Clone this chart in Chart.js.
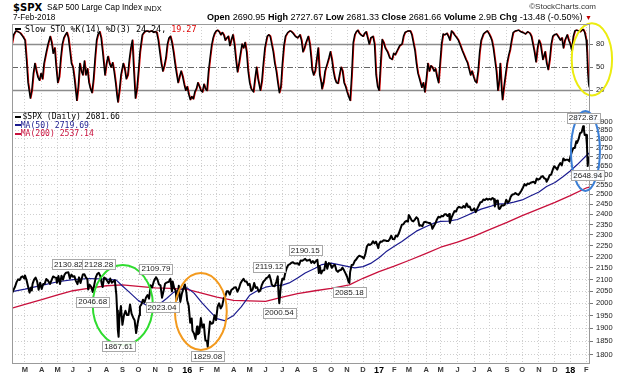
<!DOCTYPE html>
<html><head><meta charset="utf-8">
<script src="https://cdn.jsdelivr.net/npm/chart.js@4.4.1/dist/chart.umd.min.js"></script>
<style>
html,body{margin:0;padding:0;background:#fff;}
#wrap{position:relative;width:630px;height:376px;overflow:hidden;font-family:'Liberation Sans',Arial,sans-serif;color:#000;}
.t{position:absolute;white-space:nowrap;line-height:1;}
.mono{font-family:'DejaVu Sans Mono',monospace;}
.dash{position:absolute;height:2px;width:6px;}
canvas{position:absolute;left:0;}
</style></head><body>
<div id="wrap">
<canvas id="cStoch" width="630" height="96" style="top:16px;width:630px;height:96px"></canvas>
<canvas id="cPrice" width="630" height="276" style="top:100px;width:630px;height:276px"></canvas>

<div class="t" style="left:13px;top:2.5px;font-family:'DejaVu Sans';font-weight:bold;font-size:10px">$SPX</div>
<div class="t" style="left:47px;top:4px;font-size:8.2px">S&amp;P 500 Large Cap Index</div>
<div class="t" style="left:144px;top:4.5px;font-size:7.4px">INDX</div>
<div class="t" style="left:13px;top:14px;font-size:8.2px">7-Feb-2018</div>
<div class="t" style="right:38px;top:13.4px;font-size:9.05px"><b>Open</b> 2690.95 <b>High</b> 2727.67 <b>Low</b> 2681.33 <b>Close</b> 2681.66 <b>Volume</b> 2.9B <b>Chg</b> -13.48 (-0.50%) <span style="color:#c00000;font-size:7px">&#9660;</span></div>
<div class="t" style="right:34px;top:2.7px;font-size:8px;color:#333">&#169;StockCharts.com</div>

<div class="dash" style="left:15px;top:28px;background:#000"></div>
<div class="t mono" style="left:25px;top:24.5px;font-size:8.4px">Slow STO %K(14) %D(3) 24.24, <span style="color:#e00000">19.27</span></div>

<div class="dash" style="left:15px;top:116px;background:#000"></div>
<div class="t mono" style="left:22.5px;top:112.2px;font-size:8.1px">$SPX (Daily) 2681.66</div>
<div class="dash" style="left:15px;top:124.3px;background:#1b1b8f"></div>
<div class="t mono" style="left:20.7px;top:120.5px;font-size:8.1px;color:#1b1b8f">MA(50) 2719.69</div>
<div class="dash" style="left:15px;top:132.6px;background:#c8103c"></div>
<div class="t mono" style="left:20.7px;top:128.8px;font-size:8.1px;color:#c8103c">MA(200) 2537.14</div>
</div>
<script>
// ---------------- DATA ----------------
const spxClose = [
['2015-02-04',2041.51],['2015-02-06',2055.47],['2015-02-10',2068.59],['2015-02-12',2088.48],['2015-02-17',2100.34],['2015-02-19',2097.45],['2015-02-23',2109.66],['2015-02-25',2113.86],['2015-02-27',2104.50],
['2015-03-02',2117.39],['2015-03-04',2098.53],['2015-03-06',2071.26],['2015-03-10',2044.16],['2015-03-12',2065.95],['2015-03-13',2053.40],['2015-03-16',2081.19],['2015-03-18',2099.50],['2015-03-20',2108.10],['2015-03-24',2091.50],['2015-03-26',2056.15],['2015-03-30',2086.24],
['2015-04-01',2059.69],['2015-04-06',2080.62],['2015-04-08',2081.90],['2015-04-10',2102.06],['2015-04-14',2095.84],['2015-04-17',2081.18],['2015-04-21',2097.29],['2015-04-23',2112.93],['2015-04-27',2108.92],['2015-04-29',2106.85],['2015-04-30',2085.51],
['2015-05-04',2114.49],['2015-05-06',2080.15],['2015-05-08',2116.10],['2015-05-12',2099.12],['2015-05-14',2121.10],['2015-05-18',2129.20],['2015-05-21',2130.82],['2015-05-26',2104.20],['2015-05-28',2120.79],
['2015-06-01',2111.73],['2015-06-03',2114.07],['2015-06-05',2092.83],['2015-06-09',2080.15],['2015-06-11',2108.86],['2015-06-15',2084.43],['2015-06-18',2121.24],['2015-06-22',2122.85],['2015-06-24',2108.58],['2015-06-26',2101.49],['2015-06-29',2057.64],
['2015-07-01',2077.42],['2015-07-06',2068.76],['2015-07-08',2046.68],['2015-07-10',2076.62],['2015-07-14',2108.95],['2015-07-16',2124.29],['2015-07-20',2128.28],['2015-07-22',2114.15],['2015-07-24',2079.65],['2015-07-27',2067.64],['2015-07-29',2108.57],['2015-07-31',2103.84],
['2015-08-04',2093.32],['2015-08-06',2083.56],['2015-08-10',2104.18],['2015-08-12',2086.05],['2015-08-14',2091.54],['2015-08-18',2096.92],['2015-08-20',2035.73],['2015-08-21',1970.89],['2015-08-24',1893.21],['2015-08-25',1867.61],['2015-08-26',1940.51],['2015-08-28',1988.87],
['2015-09-01',1913.85],['2015-09-03',1951.13],['2015-09-08',1969.41],['2015-09-10',1952.29],['2015-09-14',1953.03],['2015-09-16',1995.31],['2015-09-18',1958.08],['2015-09-22',1942.74],['2015-09-24',1932.24],['2015-09-28',1881.77],['2015-09-30',1920.03],
['2015-10-02',1951.36],['2015-10-05',1987.05],['2015-10-07',1995.83],['2015-10-09',2014.89],['2015-10-13',2003.69],['2015-10-15',2023.86],['2015-10-19',2033.66],['2015-10-21',2018.94],['2015-10-23',2075.15],['2015-10-27',2065.89],['2015-10-29',2089.41],
['2015-11-02',2104.05],['2015-11-03',2109.79],['2015-11-05',2099.93],['2015-11-09',2078.58],['2015-11-11',2075.00],['2015-11-13',2023.04],['2015-11-17',2050.44],['2015-11-19',2081.24],['2015-11-23',2086.59],['2015-11-27',2090.11],
['2015-12-01',2102.63],['2015-12-03',2049.62],['2015-12-04',2091.69],['2015-12-08',2063.59],['2015-12-10',2052.23],['2015-12-11',2012.37],['2015-12-14',2021.94],['2015-12-16',2073.07],['2015-12-18',2005.55],['2015-12-22',2038.97],['2015-12-24',2060.99],['2015-12-29',2078.36],['2015-12-31',2043.94],
['2016-01-04',2012.66],['2016-01-06',1990.26],['2016-01-08',1922.03],['2016-01-12',1938.68],['2016-01-13',1890.28],['2016-01-15',1880.33],['2016-01-20',1859.33],['2016-01-22',1906.90],['2016-01-25',1877.08],['2016-01-27',1882.95],['2016-01-29',1940.24],
['2016-02-02',1903.03],['2016-02-04',1915.45],['2016-02-05',1880.05],['2016-02-08',1853.44],['2016-02-10',1851.86],['2016-02-11',1829.08],['2016-02-12',1864.78],['2016-02-17',1926.82],['2016-02-19',1917.78],['2016-02-23',1921.27],['2016-02-25',1951.70],['2016-02-29',1932.23],
['2016-03-02',1986.45],['2016-03-04',1999.99],['2016-03-08',1979.26],['2016-03-10',1989.57],['2016-03-14',2019.64],['2016-03-16',2027.22],['2016-03-18',2049.58],['2016-03-22',2049.80],['2016-03-24',2035.94],['2016-03-29',2055.01],['2016-03-31',2059.74],
['2016-04-04',2066.13],['2016-04-06',2066.66],['2016-04-08',2047.60],['2016-04-12',2061.72],['2016-04-14',2082.78],['2016-04-18',2094.34],['2016-04-20',2102.40],['2016-04-22',2091.58],['2016-04-26',2091.70],['2016-04-28',2075.81],
['2016-05-02',2081.43],['2016-05-04',2051.12],['2016-05-06',2057.14],['2016-05-10',2084.39],['2016-05-12',2064.11],['2016-05-16',2066.66],['2016-05-18',2047.63],['2016-05-20',2052.32],['2016-05-24',2076.06],['2016-05-26',2090.10],['2016-05-31',2096.95],
['2016-06-02',2105.26],['2016-06-06',2109.41],['2016-06-08',2119.12],['2016-06-10',2096.07],['2016-06-13',2079.06],['2016-06-15',2071.50],['2016-06-17',2071.22],['2016-06-21',2088.90],['2016-06-23',2113.32],['2016-06-24',2037.41],['2016-06-27',2000.54],['2016-06-29',2070.77],
['2016-07-01',2102.95],['2016-07-06',2099.73],['2016-07-08',2129.90],['2016-07-12',2152.14],['2016-07-14',2163.75],['2016-07-18',2166.89],['2016-07-20',2173.02],['2016-07-22',2175.03],['2016-07-26',2169.18],['2016-07-28',2170.06],
['2016-08-01',2170.84],['2016-08-03',2163.79],['2016-08-05',2182.87],['2016-08-09',2181.74],['2016-08-11',2185.79],['2016-08-15',2190.15],['2016-08-17',2182.22],['2016-08-19',2183.87],['2016-08-23',2186.90],['2016-08-25',2172.47],['2016-08-29',2180.38],['2016-08-31',2170.95],
['2016-09-02',2179.98],['2016-09-07',2186.16],['2016-09-09',2127.81],['2016-09-12',2159.04],['2016-09-14',2125.77],['2016-09-16',2139.16],['2016-09-20',2139.76],['2016-09-22',2177.18],['2016-09-26',2146.10],['2016-09-28',2171.37],['2016-09-30',2168.27],
['2016-10-04',2150.49],['2016-10-06',2160.77],['2016-10-10',2163.66],['2016-10-12',2139.18],['2016-10-14',2132.98],['2016-10-18',2139.60],['2016-10-20',2141.34],['2016-10-24',2151.33],['2016-10-26',2139.43],['2016-10-28',2126.41],
['2016-11-01',2111.72],['2016-11-03',2088.66],['2016-11-04',2085.18],['2016-11-07',2131.52],['2016-11-09',2163.26],['2016-11-11',2164.45],['2016-11-15',2180.39],['2016-11-17',2187.12],['2016-11-21',2198.18],['2016-11-23',2204.72],['2016-11-28',2201.72],['2016-11-30',2198.81],
['2016-12-02',2191.95],['2016-12-06',2212.23],['2016-12-08',2246.19],['2016-12-12',2256.96],['2016-12-14',2253.28],['2016-12-16',2258.07],['2016-12-20',2270.76],['2016-12-22',2260.96],['2016-12-27',2268.88],['2016-12-29',2249.26],['2016-12-30',2238.83],
['2017-01-03',2257.83],['2017-01-05',2269.00],['2017-01-09',2268.90],['2017-01-11',2275.32],['2017-01-13',2274.64],['2017-01-18',2271.89],['2017-01-20',2271.31],['2017-01-24',2280.07],['2017-01-26',2296.68],['2017-01-30',2280.90],
['2017-02-01',2279.55],['2017-02-03',2297.42],['2017-02-07',2293.08],['2017-02-09',2307.87],['2017-02-13',2328.25],['2017-02-15',2349.25],['2017-02-17',2351.16],['2017-02-22',2362.82],['2017-02-24',2367.34],['2017-02-28',2363.64],
['2017-03-01',2395.96],['2017-03-03',2383.12],['2017-03-07',2368.39],['2017-03-09',2364.87],['2017-03-13',2373.47],['2017-03-15',2385.26],['2017-03-17',2378.25],['2017-03-21',2344.02],['2017-03-23',2345.96],['2017-03-27',2341.59],['2017-03-29',2361.13],['2017-03-31',2362.72],
['2017-04-04',2360.16],['2017-04-06',2357.49],['2017-04-10',2357.16],['2017-04-12',2344.93],['2017-04-13',2328.95],['2017-04-18',2342.19],['2017-04-20',2355.84],['2017-04-24',2374.15],['2017-04-26',2387.45],['2017-04-28',2384.20],
['2017-05-02',2391.17],['2017-05-04',2389.52],['2017-05-08',2399.38],['2017-05-10',2399.63],['2017-05-12',2390.90],['2017-05-16',2400.67],['2017-05-17',2357.03],['2017-05-19',2381.73],['2017-05-23',2398.42],['2017-05-25',2415.07],['2017-05-30',2412.91],
['2017-06-01',2430.06],['2017-06-05',2436.10],['2017-06-07',2433.14],['2017-06-09',2431.77],['2017-06-13',2440.35],['2017-06-15',2432.46],['2017-06-19',2453.46],['2017-06-21',2435.61],['2017-06-23',2438.30],['2017-06-27',2419.38],['2017-06-29',2419.70],
['2017-07-03',2429.01],['2017-07-06',2409.75],['2017-07-10',2427.43],['2017-07-12',2443.25],['2017-07-14',2459.27],['2017-07-18',2460.61],['2017-07-20',2473.45],['2017-07-24',2469.91],['2017-07-26',2477.57],['2017-07-28',2472.10],
['2017-08-01',2476.35],['2017-08-03',2472.16],['2017-08-07',2480.91],['2017-08-09',2474.02],['2017-08-10',2438.21],['2017-08-14',2465.84],['2017-08-16',2468.11],['2017-08-17',2430.01],['2017-08-18',2425.55],['2017-08-21',2428.37],['2017-08-23',2444.04],['2017-08-25',2443.05],['2017-08-29',2446.30],['2017-08-31',2471.65],
['2017-09-05',2457.85],['2017-09-07',2465.10],['2017-09-11',2488.11],['2017-09-13',2498.37],['2017-09-15',2500.23],['2017-09-19',2506.65],['2017-09-21',2500.60],['2017-09-25',2496.66],['2017-09-27',2507.04],['2017-09-29',2519.36],
['2017-10-03',2534.58],['2017-10-05',2552.07],['2017-10-09',2544.73],['2017-10-11',2555.24],['2017-10-13',2553.17],['2017-10-17',2559.36],['2017-10-19',2562.10],['2017-10-23',2564.98],['2017-10-25',2557.15],['2017-10-27',2581.07],['2017-10-31',2575.26],
['2017-11-02',2579.85],['2017-11-06',2591.13],['2017-11-08',2594.38],['2017-11-10',2582.30],['2017-11-14',2578.87],['2017-11-15',2564.62],['2017-11-17',2578.85],['2017-11-21',2599.03],['2017-11-24',2602.42],['2017-11-28',2627.04],['2017-11-30',2647.58],
['2017-12-04',2639.44],['2017-12-06',2629.27],['2017-12-08',2651.50],['2017-12-12',2664.11],['2017-12-14',2652.01],['2017-12-18',2690.16],['2017-12-20',2679.25],['2017-12-22',2683.34],['2017-12-27',2682.62],['2017-12-29',2673.61],
['2018-01-02',2695.81],['2018-01-04',2723.99],['2018-01-08',2747.71],['2018-01-10',2748.23],['2018-01-12',2786.24],['2018-01-16',2776.42],['2018-01-18',2798.03],['2018-01-22',2832.97],['2018-01-24',2837.54],['2018-01-26',2872.87],['2018-01-29',2853.53],['2018-01-30',2822.43],['2018-01-31',2823.81],
['2018-02-01',2821.98],['2018-02-02',2762.13],['2018-02-05',2648.94],['2018-02-06',2695.14],['2018-02-07',2681.66]
];
const ma50 = [
['2015-02-04',2048],['2015-03-02',2059],['2015-04-01',2075],['2015-05-01',2090],['2015-06-01',2099],['2015-07-01',2104],['2015-08-03',2101],['2015-08-20',2097],['2015-09-01',2072],['2015-09-15',2046],['2015-10-01',2011],['2015-10-15',1993],['2015-10-28',1982],['2015-11-09',1995],['2015-11-23',2020],['2015-12-07',2045],['2015-12-21',2058],
['2016-01-04',2064],['2016-01-15',2042],['2016-02-01',2004],['2016-02-16',1970],['2016-03-01',1938],['2016-03-15',1930],['2016-04-01',1951],['2016-04-15',1985],['2016-05-02',2033],['2016-05-16',2052],['2016-06-01',2067],['2016-06-15',2073],['2016-07-01',2076],['2016-07-15',2085],['2016-08-01',2106],['2016-08-15',2128],['2016-09-01',2149],['2016-09-15',2165],['2016-10-03',2171],['2016-10-17',2165],['2016-11-01',2157],['2016-11-15',2150],['2016-12-01',2156],['2016-12-15',2170],
['2017-01-03',2195],['2017-01-17',2222],['2017-02-01',2247],['2017-02-15',2270],['2017-03-01',2293],['2017-03-15',2318],['2017-04-03',2340],['2017-04-17',2355],['2017-05-01',2365],['2017-05-15',2366],['2017-06-01',2374],['2017-06-15',2390],['2017-07-03',2410],['2017-07-17',2425],['2017-08-01',2437],['2017-08-15',2450],['2017-09-01',2452],['2017-09-15',2460],['2017-10-02',2471],['2017-10-16',2490],['2017-11-01',2511],['2017-11-15',2540],['2017-12-01',2561],['2017-12-15',2590],
['2018-01-02',2622],['2018-01-16',2655],['2018-02-01',2705],['2018-02-07',2719.69]
];
const ma200 = [
['2015-02-04',1980],['2015-03-02',1996],['2015-04-01',2015],['2015-05-01',2035],['2015-06-01',2052],['2015-07-01',2063],['2015-08-03',2073],['2015-09-01',2077],['2015-10-01',2070],['2015-11-02',2064],['2015-12-01',2062],
['2016-01-04',2058],['2016-02-01',2042],['2016-03-01',2025],['2016-04-01',2012],['2016-05-02',2010],['2016-06-01',2008],['2016-07-01',2025],['2016-08-01',2040],['2016-09-01',2052],['2016-10-03',2062],['2016-11-04',2077],['2016-12-01',2105],
['2017-01-03',2134],['2017-02-01',2158],['2017-03-01',2183],['2017-04-03',2215],['2017-05-01',2243],['2017-06-01',2267],['2017-07-03',2295],['2017-08-01',2325],['2017-09-01',2360],['2017-10-02',2393],['2017-11-01',2426],['2017-12-01',2459],
['2018-01-02',2493],['2018-02-01',2532],['2018-02-07',2537.14]
];
// Slow stochastic %K: [trading-day number from 4-Feb-2015, value]
const stochK = [
[0,81],[2,92],[5,97],[8,96],[11,94],[14,90],[17,85],[19,60],[21,30],[24,10],[26,20],[28,42],[30,55],[32,45],[34,37],[36,33],[38,42],[40,35],[42,55],[45,70],[47,79],[50,90],[52,82],[54,68],[56,75],[58,50],[60,30],[62,38],[64,62],[66,80],[68,88],[70,92],[72,95],[74,88],[76,72],[78,55],[80,50],[82,35],[85,7],[87,25],[89,55],[91,45],[93,40],[95,58],[97,40],[99,48],
[101,30],[103,22],[105,17],[107,35],[109,62],[111,85],[113,93],[115,96],[117,88],[119,70],[122,40],[124,55],[126,64],[128,55],[130,50],[132,56],[134,45],[136,30],[138,12],[139,5],[141,20],[143,40],[146,55],[148,48],[150,35],[152,40],[154,60],[156,75],[158,85],[160,45],[162,10],[164,22],[166,45],[168,70],[171,92],[174,96],[177,97],[180,96],[183,97],[186,95],[188,96],[190,95],[192,85],[194,70],[196,55],[198,45],
[200,52],[202,62],[204,80],[206,88],[208,90],[210,82],[212,70],[214,55],[216,42],[218,30],[220,38],[222,45],[224,38],[226,28],[228,20],[230,25],[232,15],[234,8],[236,12],[238,9],[240,18],[242,22],[244,30],[246,25],[248,20],[250,18],[252,28],[254,22],[256,20],[258,45],[260,62],[262,78],[264,88],[266,94],[268,97],[270,98],[272,96],[274,92],[276,95],[278,92],[280,85],[282,88],[284,90],[286,78],[288,86],[290,92],[292,80],[294,60],[296,44],[298,55],
[300,68],[302,80],[304,75],[306,82],[308,70],[310,45],[312,30],[314,22],[317,18],[319,35],[321,50],[323,35],[326,20],[328,32],[330,55],[332,75],[335,90],[337,92],[339,90],[341,80],[343,70],[345,55],[347,45],[349,30],[351,17],[353,25],[355,55],[357,78],[359,90],[362,95],[365,97],[367,96],[369,94],[372,90],[375,88],[378,92],[380,85],[382,70],[384,75],[386,82],[389,90],[391,80],[393,60],[394,47],[396,40],[398,45],
[400,60],[402,75],[404,40],[406,30],[407,22],[409,30],[411,45],[414,55],[416,62],[418,70],[420,60],[422,45],[424,35],[426,30],[428,29],[430,40],[432,50],[434,45],[436,30],[438,25],[440,18],[442,12],[444,7],[446,40],[448,82],[450,92],[452,96],[454,98],[456,94],[458,92],[461,90],[463,94],[465,96],[467,88],[469,80],[471,88],[474,90],[476,80],[478,40],[480,25],[482,20],[484,55],[486,86],[488,82],[490,75],[493,70],[496,62],[499,60],
[501,68],[503,66],[506,72],[509,78],[512,80],[514,90],[516,95],[518,96],[520,97],[523,97],[525,92],[527,82],[529,72],[531,55],[533,42],[535,35],[538,24],[540,30],[542,18],[544,35],[546,55],[548,45],[550,52],[552,50],[554,45],[556,48],[558,38],[560,30],[562,55],[564,80],[566,93],[568,92],[571,94],[573,90],[575,85],[577,97],[579,95],[581,92],[584,88],[586,85],[588,80],[591,72],[594,65],[596,60],[598,56],
[600,48],[602,40],[604,45],[606,38],[608,32],[610,30],[612,45],[614,70],[616,85],[619,93],[621,95],[624,97],[626,94],[628,90],[630,85],[632,75],[634,60],[636,45],[638,20],[640,35],[641,55],[643,20],[644,8],[646,25],[648,40],[650,55],[652,65],[654,73],[656,85],[658,95],[661,97],[665,98],[668,96],[671,95],[674,93],[677,96],[680,94],[682,90],[684,80],[686,70],[688,57],[690,75],[692,85],[694,80],[697,60],
[700,70],[702,55],[704,47],[706,60],[708,80],[710,90],[712,92],[715,93],[717,90],[720,85],[722,88],[724,75],[726,85],[729,92],[731,85],[733,80],[735,72],[737,90],[739,97],[741,98],[744,97],[746,96],[748,98],[750,99],[752,95],[754,85],[755,70],[756,45],[757,30],[758,24]
];
const monthTicks = ['2015-03-01','2015-04-01','2015-05-01','2015-06-01','2015-07-01','2015-08-01','2015-09-01','2015-10-01','2015-11-01','2015-12-01',
'2016-01-01','2016-02-01','2016-03-01','2016-04-01','2016-05-01','2016-06-01','2016-07-01','2016-08-01','2016-09-01','2016-10-01','2016-11-01','2016-12-01',
'2017-01-01','2017-02-01','2017-03-01','2017-04-01','2017-05-01','2017-06-01','2017-07-01','2017-08-01','2017-09-01','2017-10-01','2017-11-01','2017-12-01',
'2018-01-01','2018-02-01'];
const monthLabels = ['M','A','M','J','J','A','S','O','N','D','16','F','M','A','M','J','J','A','S','O','N','D','17','F','M','A','M','J','J','A','S','O','N','D','18','F'];
const priceTicks = [1800,1850,1900,1950,2000,2050,2100,2150,2200,2250,2300,2350,2400,2450,2500,2550,2600,2650,2700,2750,2800,2850,2900];
const stochTicks = [20,50,80];
const annDates  = ['2015-05-21','2015-07-20','2015-07-08','2015-11-03','2015-11-13','2015-08-25','2016-02-11','2016-06-08','2016-06-27','2016-08-15','2016-11-04','2018-01-26','2018-02-05'];
const annValues = [2130.82,2128.28,2046.68,2109.79,2023.04,1867.61,1829.08,2119.12,2000.54,2190.15,2085.18,2872.87,2648.94];
const annSide   = ['above','above','below','above','below','below','below','above','below','above','below','above','below'];

// ---------------- trading calendar ----------------
const HOLIDAYS = ['2015-02-16','2015-04-03','2015-05-25','2015-07-03','2015-09-07','2015-11-26','2015-12-25',
'2016-01-01','2016-01-18','2016-02-15','2016-03-25','2016-05-30','2016-07-04','2016-09-05','2016-11-24','2016-12-26',
'2017-01-02','2017-01-16','2017-02-20','2017-04-14','2017-05-29','2017-07-04','2017-09-04','2017-11-23','2017-12-25',
'2018-01-01','2018-01-15'];
const tradingDays = [];
for (let t = Date.UTC(2015,1,4); t <= Date.UTC(2018,1,7); t += 86400000) {
  const d = new Date(t), w = d.getUTCDay(), s = d.toISOString().slice(0,10);
  if (w === 0 || w === 6 || HOLIDAYS.includes(s)) continue;
  tradingDays.push(s);
}
function dayIdx(s){ let n = 0; for (const d of tradingDays){ if (d < s) n++; else break; } return n; }

const monthPos = monthTicks.map(dayIdx);
const labelAt = {}; monthPos.forEach((p,i) => { labelAt[p] = monthLabels[i]; });
const XMIN = 0, XMAX = 759;

// ---------------- helpers / plugins ----------------
Chart.defaults.font.family = "'Liberation Sans', Arial, sans-serif";
Chart.defaults.color = '#222';

const framePlugin = {
  id: 'frame',
  afterDraw(chart){
    const a = chart.chartArea, c = chart.ctx;
    c.save(); c.strokeStyle = '#9a9a9a'; c.lineWidth = 1;
    c.strokeRect(Math.round(a.left)+0.5, Math.round(a.top)+0.5, Math.round(a.right-a.left)-1, Math.round(a.bottom-a.top));
    c.restore();
  }
};
function ellipse(chart, e){
  const xs = chart.scales.x, ys = chart.scales.y, c = chart.ctx;
  const x0 = xs.getPixelForValue(e.x0), x1 = xs.getPixelForValue(e.x1);
  const y0 = ys.getPixelForValue(e.y0), y1 = ys.getPixelForValue(e.y1);
  c.save(); c.strokeStyle = e.color; c.lineWidth = 2; c.beginPath();
  c.ellipse((x0+x1)/2, (y0+y1)/2, Math.abs(x1-x0)/2, Math.abs(y1-y0)/2, 0, 0, Math.PI*2);
  c.stroke(); c.restore();
}
const priceEllipses = [
  {x0:106, x1:185, y0:1836, y1:2163, color:'#2fdc2f'},
  {x0:214, x1:282, y0:1818, y1:2128, color:'#f39a1e'},
  {x0:734, x1:772, y0:2517, y1:2964, color:'#3b7fd6'}
];
const stochEllipses = [ {x0:735, x1:788, y0:13.5, y1:107, color:'#ecec10'} ];

const stochRefPlugin = {
  id: 'stochRef',
  beforeDatasetsDraw(chart){
    const a = chart.chartArea, ys = chart.scales.y, c = chart.ctx;
    c.save();
    [[80,[]],[20,[]],[50,[6,2,1,2]]].forEach(([v,dash]) => {
      const y = Math.round(ys.getPixelForValue(v)) + 0.5;
      c.strokeStyle = v === 50 ? '#666' : '#8c8c8c'; c.lineWidth = v === 50 ? 1 : 1.6; c.setLineDash(dash);
      c.beginPath(); c.moveTo(a.left, y); c.lineTo(a.right, y); c.stroke();
    });
    c.restore();
  },
  afterDraw(chart){ stochEllipses.forEach(e => ellipse(chart, e)); }
};
const priceAnnPlugin = {
  id: 'priceAnn',
  afterDraw(chart){
    const xs = chart.scales.x, ys = chart.scales.y, c = chart.ctx;
    priceEllipses.forEach(e => ellipse(chart, e));
    c.save();
    c.font = "8px 'Liberation Sans', Arial, sans-serif";
    c.textAlign = 'center'; c.textBaseline = 'middle';
    annDates.forEach((d,i) => {
      const px = xs.getPixelForValue(dayIdx(d)), py = ys.getPixelForValue(annValues[i]);
      const txt = annValues[i].toFixed(2);
      const w = c.measureText(txt).width + 4, h = 10;
      const cy = annSide[i] === 'above' ? py - 8.5 : py + 9.5;
      c.fillStyle = 'rgba(255,255,255,0.9)'; c.strokeStyle = '#a8a8a8'; c.lineWidth = 1;
      c.fillRect(Math.round(px - w/2)+0.5, Math.round(cy - h/2)+0.5, Math.round(w), h);
      c.strokeRect(Math.round(px - w/2)+0.5, Math.round(cy - h/2)+0.5, Math.round(w), h);
      c.fillStyle = '#222'; c.fillText(txt, px, cy + 0.5);
    });
    c.restore();
  }
};
function noPad(s){ s.paddingTop = 0; s.paddingBottom = 0; s.paddingLeft = 0; s.paddingRight = 0; }

function xAxis(showLabels){
  return {
    type: 'linear', min: XMIN, max: XMAX,
    afterBuildTicks: s => { s.ticks = monthPos.map(v => ({value: v})); },
    afterFit: s => { s.height = showLabels ? 13 : 0; noPad(s); },
    grid: { color: '#cfcfcf', lineWidth: 1, drawTicks: false },
    border: { display: false, dash: [1,2] },
    ticks: {
      display: showLabels, autoSkip: false, maxRotation: 0, minRotation: 0, padding: 2.5,
      callback: v => labelAt[v] || '',
      color: ctx => /\d/.test(labelAt[ctx.tick && ctx.tick.value] || '') ? '#000' : '#3a3a3a',
      font: ctx => /\d/.test(labelAt[ctx.tick && ctx.tick.value] || '') ? {size: 9, weight: 'bold'} : {size: 7.5, weight: 'bold'}
    }
  };
}
const common = { responsive: false, animation: false, devicePixelRatio: 1, events: [],
  plugins: { legend: {display: false}, tooltip: {enabled: false} },
  elements: { point: { radius: 0 }, line: { tension: 0, borderJoinStyle: 'round' } } };

// ---------------- stochastic panel (dataset 0 is drawn on top) ----------------
new Chart(document.getElementById('cStoch'), {
  type: 'line',
  data: { datasets: [
    { label: '%K', data: stochK.map(p => ({x: p[0], y: p[1]})), borderColor: '#000', borderWidth: 1.4 },
    { label: '%D', data: stochK.map(p => ({x: p[0] + 0.8, y: p[1]})), borderColor: '#e00000', borderWidth: 1.4 }
  ]},
  options: Object.assign({}, common, {
    layout: { padding: { left: 12, top: 8, right: 0, bottom: 0 } },
    scales: {
      x: xAxis(false),
      y: { type: 'linear', position: 'right', min: -8, max: 106,
        afterBuildTicks: s => { s.ticks = stochTicks.map(v => ({value: v})); },
        afterFit: s => { s.width = 40; noPad(s); },
        grid: { drawOnChartArea: false, drawTicks: true, tickLength: 3, tickColor: '#777' },
        border: { display: false },
        ticks: { autoSkip: false, padding: 3, font: {size: 7.5}, color: '#222' } }
    }
  }),
  plugins: [stochRefPlugin, framePlugin]
});

// ---------------- price panel (dataset 0 is drawn on top) ----------------
new Chart(document.getElementById('cPrice'), {
  type: 'line',
  data: { datasets: [
    { label: '$SPX', data: spxClose.map(p => ({x: dayIdx(p[0]), y: p[1]})), borderColor: '#000', borderWidth: 2 },
    { label: 'MA(50)', data: ma50.map(p => ({x: dayIdx(p[0]), y: p[1]})), borderColor: '#1b1b8f', borderWidth: 1.2 },
    { label: 'MA(200)', data: ma200.map(p => ({x: dayIdx(p[0]), y: p[1]})), borderColor: '#c8103c', borderWidth: 1.3 }
  ]},
  options: Object.assign({}, common, {
    layout: { padding: { left: 12, top: 12, right: 0, bottom: 0 } },
    scales: {
      x: xAxis(true),
      y: { type: 'logarithmic', position: 'right', min: 1770, max: 2958,
        afterBuildTicks: s => { s.ticks = priceTicks.map(v => ({value: v})); },
        afterFit: s => { s.width = 40; noPad(s); },
        grid: { color: '#cfcfcf', drawTicks: true, tickLength: 3, tickColor: '#777' },
        border: { display: false, dash: [1,2] },
        ticks: { autoSkip: false, padding: 3, font: {size: 7.5}, color: '#222', callback: v => String(v) } }
    }
  }),
  plugins: [framePlugin, priceAnnPlugin]
});
</script>
</body></html>
